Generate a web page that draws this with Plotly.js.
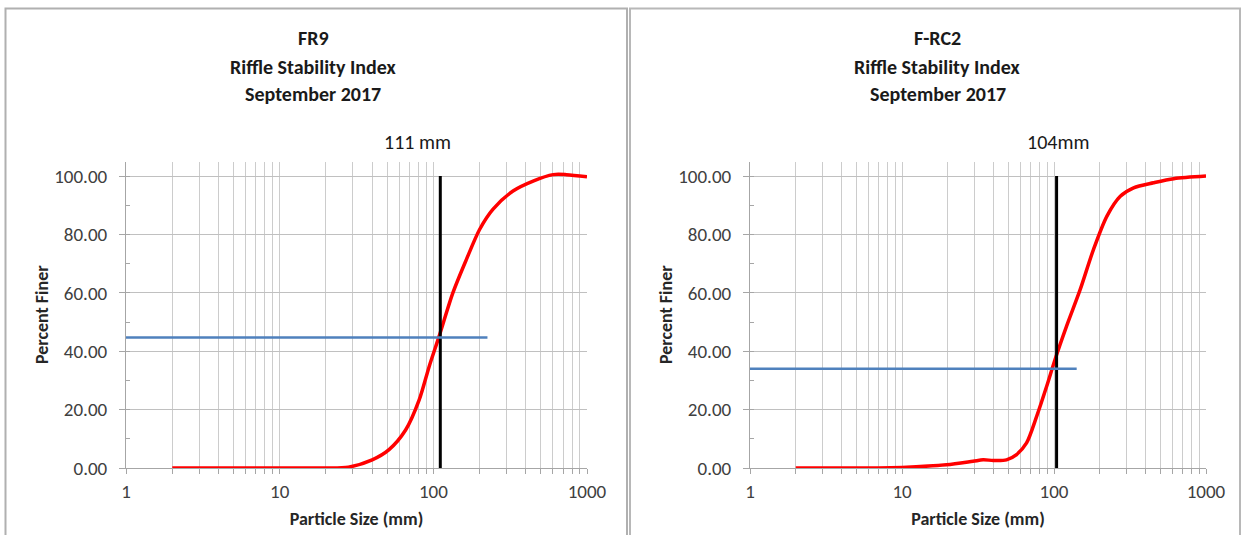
<!DOCTYPE html>
<html>
<head>
<meta charset="utf-8">
<script src="https://cdn.plot.ly/plotly-3.0.1.min.js"></script>
<style>html,body{margin:0;padding:0;background:#fff;}#chart{width:1243px;height:535px;}</style>
</head>
<body>
<div id="chart"></div>
<script>
// ---- Data ----
const titleLeft = ["FR9", "Riffle Stability Index", "September 2017"];
const titleRight = ["F-RC2", "Riffle Stability Index", "September 2017"];

const fr9Size =    [2, 10, 20, 28, 40, 51.5, 66, 81, 94, 109, 134, 164, 200, 244, 330, 446, 602, 736, 1000];
const fr9Finer =   [0, 0, 0, 0.3, 2.8, 6.3, 13, 23.4, 34.8, 45.1, 60, 71.4, 81.7, 88.6, 94.9, 98.3, 100.5, 100.5, 99.8];
const fr9D = 111;            // vertical line size (mm)
const fr9Label = "111 mm";
const fr9Level = 44.7;       // horizontal (blue) line level
const fr9LevelEnd = 225;     // blue line right end (mm)

const rcSize =  [2, 7, 10, 19.6, 29.3, 34.2, 39.8, 48.7, 56.7, 66, 76.9, 89.5, 101.5, 121, 148.6, 182, 223, 273, 334, 452, 614, 1000];
const rcFiner = [0, 0, 0.2, 1.1, 2.3, 2.8, 2.6, 2.8, 4.6, 8.6, 17.7, 28, 37.1, 48.6, 61.1, 74.9, 86.3, 93.1, 96, 97.7, 99.1, 100];
const rcD = 104;
const rcLabel = "104mm";
const rcLevel = 34.0;
const rcLevelEnd = 141;

const xTickVals = [1,2,3,4,5,6,7,8,9,10,20,30,40,50,60,70,80,90,100,200,300,400,500,600,700,800,900,1000];
const xTickText = xTickVals.map(v => [1,10,100,1000].includes(v) ? String(v) : "");
const yRange = [0, 105];
const xStart = 1;

// ---- Styling ----
const FONT = 'Carlito, Lato, "Liberation Sans", sans-serif';
const gridCol = '#cccccc';
const axCol = '#a6a6a6';

function xaxis(domain, anchor){
  return {
    type:'log', range:[0,3], domain:domain, anchor:anchor,
    tickmode:'array', tickvals:xTickVals, ticktext:xTickText,
    showgrid:true, gridcolor:gridCol, gridwidth:1,
    showline:true, linecolor:axCol, linewidth:1,
    ticks:'outside', ticklen:5, tickcolor:axCol,
    ticklabelstandoff:1,
    zeroline:false,
    tickfont:{family:FONT, size:19, color:'#404040'},
    title:{text:'<b>Particle Size (mm)</b>', font:{family:FONT, size:18, color:'#262626'}, standoff:10}
  };
}
function yaxis(domain, anchor){
  return {
    range:yRange, domain:domain, anchor:anchor,
    tickvals:[0,20,40,60,80,100], tickformat:'.2f',
    showgrid:true, gridcolor:'#c0c0c0', gridwidth:1,
    showline:true, linecolor:axCol, linewidth:1,
    ticks:'outside', ticklen:6, tickcolor:axCol,
    ticklabelstandoff:8,
    minor:{ticks:'inside', ticklen:4, tickcolor:axCol, dtick:10, tick0:0, showgrid:false},
    zeroline:false,
    tickfont:{family:FONT, size:19, color:'#404040'},
    title:{text:'<b>Percent Finer</b>', font:{family:FONT, size:18, color:'#262626'}, standoff:0}
  };
}

function panelTraces(size, finer, d, level, levelEnd, xa, ya){
  return [
    {x:size, y:finer, type:'scatter', mode:'lines', line:{color:'#ff0000', width:3.5, shape:'spline', smoothing:0.8}, xaxis:xa, yaxis:ya, hoverinfo:'skip'},
    {x:[d,d], y:[0,100], type:'scatter', mode:'lines', line:{color:'#000000', width:3}, xaxis:xa, yaxis:ya, hoverinfo:'skip'},
    {x:[xStart, levelEnd], y:[level, level], type:'scatter', mode:'lines', line:{color:'#4f81bd', width:2.5}, xaxis:xa, yaxis:ya, hoverinfo:'skip'}
  ];
}

const data = [
  ...panelTraces(fr9Size, fr9Finer, fr9D, fr9Level, fr9LevelEnd, 'x', 'y'),
  ...panelTraces(rcSize, rcFiner, rcD, rcLevel, rcLevelEnd, 'x2', 'y2')
];

const W = 1243, H = 535;
const yDom = [1 - 468/H, 1 - 161.5/H];
const titleRows = [38, 67, 94];

function titleAnns(lines, cx){
  return lines.map((t, i) => ({
    xref:'paper', yref:'paper', x:cx/W, y:1-titleRows[i]/H, xanchor:'center', yanchor:'middle',
    text:'<b>'+t+'</b>', showarrow:false, font:{family:FONT, size:20, color:'#1a1a1a'}
  }));
}

const layout = {
  width:W, height:H, margin:{l:0,r:0,t:0,b:0},
  paper_bgcolor:'#ffffff', plot_bgcolor:'rgba(0,0,0,0)',
  showlegend:false,
  xaxis: xaxis([126/W, 587/W], 'y'),
  yaxis: yaxis(yDom, 'x'),
  xaxis2: xaxis([750/W, 1206/W], 'y2'),
  yaxis2: yaxis(yDom, 'x2'),
  shapes:[
    {type:'rect', xref:'paper', yref:'paper', x0:5.5/W, x1:627/W, y0:-0.05, y1:1-8.5/H, line:{color:'#b0b0b0', width:2}},
    {type:'rect', xref:'paper', yref:'paper', x0:630/W, x1:1240/W, y0:-0.05, y1:1-8.5/H, line:{color:'#b8b8b8', width:2}}
  ],
  annotations:[
    ...titleAnns(titleLeft, 313),
    ...titleAnns(titleRight, 938),
    {xref:'x', yref:'paper', x:Math.log10(fr9D), y:1-142/H, xanchor:'center', yanchor:'middle', text:fr9Label, showarrow:false, font:{family:FONT, size:20, color:'#1a1a1a'}, xshift:-23},
    {xref:'x2', yref:'paper', x:Math.log10(rcD), y:1-142/H, xanchor:'center', yanchor:'middle', text:rcLabel, showarrow:false, font:{family:FONT, size:20, color:'#1a1a1a'}, xshift:1}
  ]
};

Plotly.newPlot('chart', data, layout, {staticPlot:true, displayModeBar:false});
</script>
</body>
</html>
